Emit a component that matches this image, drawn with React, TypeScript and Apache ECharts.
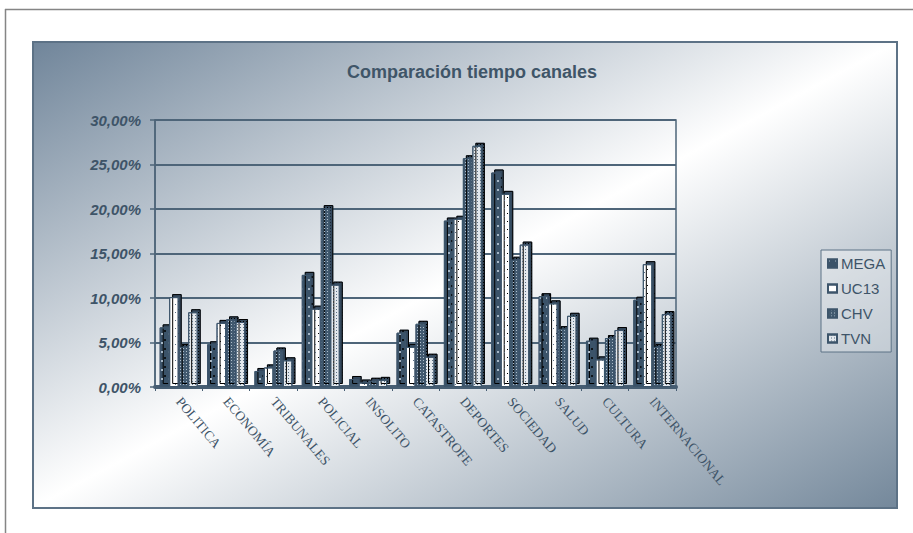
import React, { useEffect, useRef } from 'react';
import * as echarts from 'echarts';

// Share of broadcast time per topic, in percent
const categories = [
  'POLITICA', 'ECONOMÍA', 'TRIBUNALES', 'POLICIAL', 'INSOLITO', 'CATASTROFE',
  'DEPORTES', 'SOCIEDAD', 'SALUD', 'CULTURA', 'INTERNACIONAL',
];
const channels = ['MEGA', 'UC13', 'CHV', 'TVN'];
const mega = [6.7, 4.8, 1.8, 12.6, 0.9, 6.1, 18.7, 24.1, 10.2, 5.2, 9.8];
const uc13 = [10.1, 7.2, 2.2, 8.8, 0.5, 4.5, 18.9, 21.7, 9.4, 3.1, 13.8];
const chv = [4.5, 7.6, 4.1, 20.1, 0.7, 7.1, 25.7, 14.3, 6.5, 5.5, 4.5];
const tvn = [8.4, 7.3, 3.0, 11.5, 0.8, 3.4, 27.1, 16.0, 8.0, 6.4, 8.2];
const yMax = 30;
const yStep = 5;

const INK = '#3e5468';
const EDGE = '#3d556b';

const fmtPct = (v: number) => v.toFixed(2).replace('.', ',') + '%';

const barStyle = (color: string, decalColor: string, dx: number[], dy: number[]) => ({
  color,
  borderColor: EDGE,
  borderWidth: 1,
  shadowColor: '#34495d',
  shadowOffsetX: 3,
  shadowOffsetY: -3,
  shadowBlur: 0,
  decal: {
    symbol: 'rect',
    symbolSize: 1,
    color: decalColor,
    dashArrayX: dx,
    dashArrayY: dy,
  },
});

export default function App() {
  const ref = useRef<HTMLDivElement>(null);

  useEffect(() => {
    if (!ref.current) return;
    const chart = echarts.init(ref.current, undefined, { renderer: 'svg' });

    const styles = [
      barStyle('#3b5369', 'rgba(200,214,228,0.75)', [1.5, 5], [1.5, 7]),
      barStyle('#ffffff', '#5b7085', [1, 6], [1, 7]),
      barStyle('#425a6f', '#aebdcb', [1, 2], [1, 2]),
      barStyle('#e3e8ed', '#5a6f83', [1, 2], [1, 2]),
    ];
    const values = [mega, uc13, chv, tvn];

    chart.setOption({
      animation: false,
      backgroundColor: '#ffffff',
      graphic: [
        {
          type: 'line',
          shape: { x1: 5, y1: 9.5, x2: 913, y2: 9.5 },
          style: { stroke: '#858585', lineWidth: 1.5 },
          z: 0,
        },
        {
          type: 'line',
          shape: { x1: 5.5, y1: 9, x2: 5.5, y2: 533 },
          style: { stroke: '#858585', lineWidth: 1.5 },
          z: 0,
        },
        {
          type: 'rect',
          shape: { x: 33, y: 42, width: 864, height: 466 },
          style: {
            fill: new echarts.graphic.LinearGradient(0, 0, 1, 1, [
              { offset: 0, color: '#70859a' },
              { offset: 0.5, color: '#ffffff' },
              { offset: 1, color: '#74889b' },
            ]),
            stroke: '#5d7286',
            lineWidth: 2,
          },
          z: -10,
          silent: true,
        },
      ],
      title: {
        text: 'Comparación tiempo canales',
        left: 467,
        top: 58,
        textAlign: 'center',
        textStyle: {
          color: '#3f5568',
          fontFamily: 'Liberation Sans, Arial, sans-serif',
          fontSize: 18,
          fontWeight: 'bold',
        },
      },
      legend: {
        data: channels,
        orient: 'vertical',
        left: 821,
        top: 250,
        itemWidth: 9,
        itemHeight: 8,
        itemGap: 10,
        padding: [6, 6, 6, 6],
        borderColor: '#5d7286',
        borderWidth: 1,
        backgroundColor: 'rgba(255,255,255,0.35)',
        icon: 'rect',
        textStyle: {
          color: INK,
          fontFamily: 'Liberation Sans, Arial, sans-serif',
          fontSize: 15,
          lineHeight: 15,
          padding: [0, 0, 0, -1],
        },
      },
      grid: {
        left: 155,
        top: 120,
        right: 237,
        bottom: 146,
        show: true,
        borderColor: '#4e6579',
        borderWidth: 1.5,
        backgroundColor: 'transparent',
      },
      xAxis: {
        type: 'category',
        data: categories,
        axisLine: { show: true, lineStyle: { color: '#465d72', width: 4 } },
        axisTick: { show: true, length: 4, lineStyle: { color: '#465d72', width: 1 } },
        axisLabel: {
          interval: 0,
          rotate: -50,
          margin: 12,
          color: INK,
          fontFamily: 'Liberation Serif, Times New Roman, serif',
          fontSize: 13.5,
        },
      },
      yAxis: {
        type: 'value',
        min: 0,
        max: yMax,
        interval: yStep,
        axisLine: { show: true, lineStyle: { color: '#4e6579', width: 1.5 } },
        axisTick: { show: true, length: 5, lineStyle: { color: '#4e6579', width: 1.5 } },
        axisLabel: {
          margin: 14,
          color: INK,
          fontFamily: 'Liberation Sans, Arial, sans-serif',
          fontSize: 15,
          fontWeight: 'bold',
          fontStyle: 'italic',
          formatter: (v: number) => fmtPct(v),
        },
        splitLine: { show: true, lineStyle: { color: '#4e6579', width: 2 } },
      },
      series: channels.map((name, i) => ({
        name,
        type: 'bar',
        data: values[i],
        barWidth: 9.5,
        barGap: '0%',
        itemStyle: styles[i],
      })),
    });

    return () => chart.dispose();
  }, []);

  return (
    <div
      ref={ref}
      style={{ position: 'fixed', left: 0, top: 0, width: 913, height: 533 }}
    />
  );
}
